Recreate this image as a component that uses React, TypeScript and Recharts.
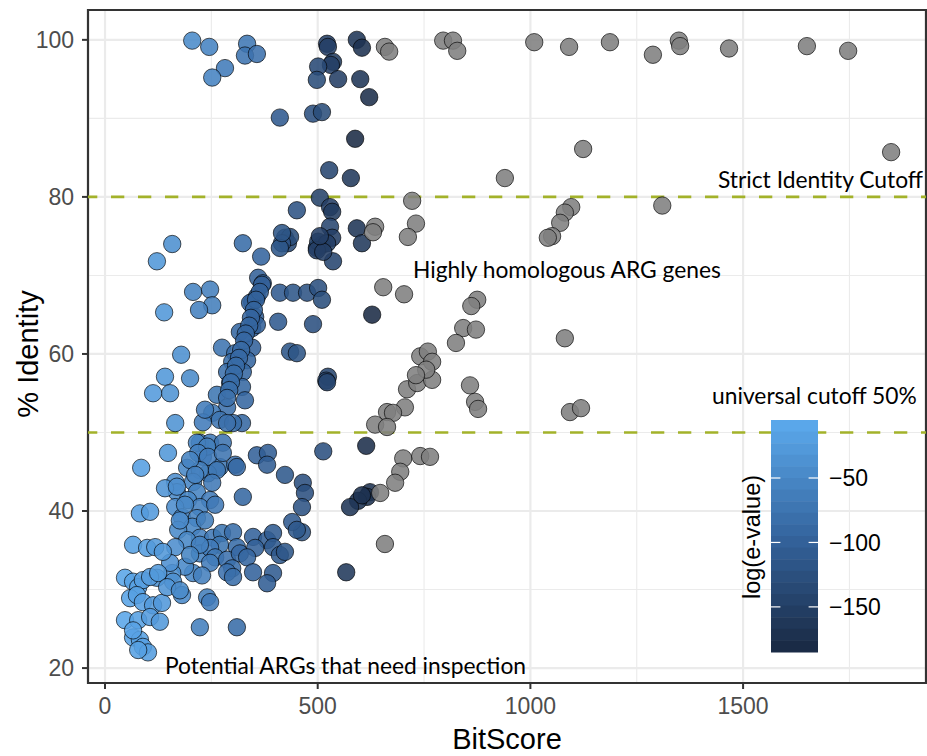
import React from "react"
import {
  ScatterChart,
  Scatter,
  XAxis,
  YAxis,
  CartesianGrid,
  ReferenceLine,
  ReferenceArea,
} from "recharts"

// hits with a finite e-value (coloured by log(e-value))
const blueBitScore = [
  205, 245, 334, 329, 357, 282, 252, 522, 524, 536,
  531, 501, 498, 548, 592, 604, 600, 621, 411, 489,
  510, 588, 527, 578, 505, 529, 534, 451, 529, 592,
  604, 158, 122, 324, 367, 423, 430, 498, 510, 534,
  536, 435, 416, 411, 501, 522, 498, 513, 416, 505,
  360, 371, 357, 346, 411, 442, 475, 501, 510, 407,
  489, 628, 207, 247, 252, 221, 139, 435, 451, 524,
  520, 179, 141, 200, 153, 113, 165, 341, 353, 317,
  346, 357, 275, 306, 346, 334, 299, 287, 324, 294,
  322, 263, 329, 287, 252, 270, 322, 230, 301, 235,
  223, 247, 277, 230, 270, 306, 242, 357, 383, 381,
  423, 324, 310, 287, 148, 85, 216, 240, 219, 242,
  277, 193, 223, 263, 165, 207, 252, 169, 216, 247,
  195, 223, 165, 181, 216, 205, 172, 223, 193, 165,
  223, 254, 275, 301, 310, 270, 247, 259, 287, 317,
  299, 247, 207, 188, 158, 160, 122, 153, 348, 381,
  395, 353, 395, 411, 423, 334, 287, 301, 348, 395,
  381, 228, 240, 247, 181, 223, 310, 82, 106, 66,
  99, 118, 136, 47, 66, 78, 89, 106, 125, 59,
  75, 89, 113, 134, 47, 78, 106, 129, 66, 82,
  89, 101, 78, 66, 141, 169, 146, 176, 522, 614,
  513, 623, 616, 595, 576, 604, 567, 465, 470, 463,
  463, 440, 451, 369, 364, 355, 350, 343, 339, 331,
  327, 320, 315, 308, 303, 296, 292, 287, 200, 212,
  188, 176, 223, 200, 235, 259,
]
const blueIdentity = [
  99.9, 99.1, 99.5, 98.0, 98.2, 96.4, 95.2, 99.5, 99.1, 97.2,
  96.8, 96.6, 94.9, 95.0, 100.0, 99.0, 95.0, 92.7, 90.1, 90.6,
  90.8, 87.4, 83.4, 82.4, 79.9, 78.7, 78.1, 78.3, 76.2, 76.0,
  74.1, 74.0, 71.8, 74.1, 72.4, 74.8, 74.1, 73.5, 73.9, 74.8,
  71.8, 74.9, 74.1, 73.5, 74.3, 74.1, 73.2, 73.0, 75.4, 75.0,
  69.7, 69.0, 67.3, 66.6, 67.8, 67.8, 67.8, 68.4, 66.9, 64.1,
  63.8, 65.0, 67.9, 68.2, 66.2, 65.6, 65.3, 60.3, 60.1, 57.1,
  56.6, 59.9, 57.1, 56.9, 55.0, 55.0, 51.2, 66.5, 64.7, 62.8,
  63.3, 63.7, 60.8, 60.1, 60.8, 59.2, 59.0, 57.7, 57.7, 56.3,
  55.8, 54.8, 54.1, 53.2, 52.5, 51.6, 51.2, 51.3, 51.2, 52.9,
  48.7, 48.7, 48.7, 46.9, 45.6, 45.9, 44.8, 47.1, 47.4, 45.9,
  44.6, 41.8, 45.6, 51.2, 47.4, 45.5, 48.7, 48.2, 47.4, 46.9,
  47.4, 45.5, 45.2, 45.2, 43.7, 43.7, 43.6, 42.4, 42.4, 41.4,
  41.4, 40.5, 40.5, 39.2, 39.1, 38.0, 37.6, 36.6, 36.3, 35.4,
  34.6, 36.6, 37.2, 37.3, 35.4, 35.7, 35.3, 34.1, 33.8, 34.6,
  32.7, 33.4, 32.1, 32.9, 32.1, 31.0, 31.5, 33.4, 36.7, 36.3,
  37.2, 35.3, 35.4, 34.4, 34.8, 34.1, 32.2, 31.6, 32.2, 32.1,
  30.8, 31.8, 29.0, 28.4, 29.3, 25.2, 25.2, 39.7, 39.9, 35.7,
  35.3, 35.4, 34.8, 31.5, 31.0, 30.3, 31.2, 31.6, 32.1, 28.9,
  29.3, 28.4, 28.0, 28.3, 26.1, 26.1, 26.5, 25.9, 23.9, 23.6,
  22.7, 22.0, 22.3, 24.8, 42.9, 43.1, 30.3, 29.9, 56.4, 48.3,
  47.6, 42.4, 41.8, 41.3, 40.5, 42.0, 32.2, 43.6, 42.3, 40.5,
  37.3, 38.6, 37.6, 68.8, 67.9, 66.9, 65.6, 64.6, 63.6, 62.6,
  61.7, 60.5, 59.5, 58.5, 57.5, 56.4, 55.4, 54.4, 46.5, 44.6,
  40.8, 38.8, 35.7, 34.4, 38.8, 40.8,
]
const blueLogE = [
  -45, -55, -70, -75, -78, -65, -55, -150, -150, -155,
  -150, -135, -130, -150, -165, -170, -165, -175, -110, -125,
  -130, -180, -140, -160, -145, -150, -155, -120, -140, -165,
  -160, -40, -30, -85, -95, -130, -135, -150, -155, -150,
  -140, -130, -120, -115, -145, -150, -150, -150, -118, -150,
  -100, -105, -100, -95, -110, -115, -120, -125, -128, -110,
  -125, -180, -55, -60, -62, -58, -30, -115, -118, -140,
  -140, -40, -30, -45, -35, -25, -35, -95, -100, -90,
  -98, -100, -75, -85, -98, -92, -85, -80, -90, -82,
  -90, -72, -92, -80, -70, -75, -90, -65, -85, -65,
  -60, -68, -75, -65, -72, -82, -68, -100, -105, -105,
  -112, -90, -88, -80, -30, -20, -55, -62, -58, -65,
  -75, -50, -60, -70, -42, -52, -68, -45, -55, -65,
  -50, -58, -42, -48, -55, -52, -45, -58, -50, -42,
  -58, -68, -72, -82, -85, -72, -65, -70, -78, -88,
  -82, -65, -52, -48, -40, -40, -30, -38, -98, -105,
  -108, -100, -108, -112, -115, -92, -78, -82, -98, -108,
  -105, -60, -62, -65, -48, -60, -85, -20, -25, -18,
  -22, -26, -30, -12, -15, -18, -20, -24, -28, -14,
  -17, -20, -25, -29, -12, -18, -24, -28, -15, -18,
  -19, -22, -17, -15, -33, -42, -33, -45, -140, -175,
  -125, -170, -170, -168, -165, -170, -160, -125, -125, -120,
  -115, -110, -112, -102, -100, -98, -97, -95, -94, -92,
  -91, -89, -88, -86, -85, -83, -82, -80, -55, -57,
  -50, -46, -58, -54, -62, -68,
]

// hits with e-value 0 -> log is -Inf -> drawn grey
const greyBitScore = [
  658, 668, 795, 818, 828, 1009, 1091, 1187, 1288, 1349,
  1352, 1467, 1650, 1747, 1848, 1124, 940, 1310, 722, 731,
  712, 1096, 1081, 1070, 1051, 1041, 635, 630, 654, 703,
  875, 861, 842, 872, 825, 1081, 710, 734, 769, 858,
  705, 663, 677, 635, 663, 870, 877, 1093, 1119, 701,
  741, 764, 694, 682, 647, 658, 741, 759, 769, 755,
  731,
]
const greyIdentity = [
  99.1, 98.5, 99.9, 99.9, 98.6, 99.7, 99.1, 99.7, 98.1, 99.9,
  99.2, 98.9, 99.2, 98.6, 85.7, 86.1, 82.4, 78.9, 79.5, 76.6,
  74.9, 78.7, 78.0, 76.7, 75.0, 74.8, 76.2, 75.5, 68.5, 67.6,
  66.9, 66.1, 63.3, 63.1, 61.4, 62.0, 55.5, 56.3, 56.7, 56.0,
  53.2, 52.6, 52.5, 51.0, 50.7, 53.9, 53.0, 52.6, 53.1, 46.7,
  47.0, 46.9, 45.0, 43.6, 42.3, 35.8, 59.7, 60.3, 59.0, 58.0,
  57.3,
]

const xTicks = [0, 500, 1000, 1500]
const yTicks = [20, 40, 60, 80, 100]
const xMinor = [250, 750, 1250, 1750]
const yMinor = [30, 50, 70, 90]
const xDomain = [-40, 1930]
const yDomain = [18.1, 103.8]
const cutoffs = [80, 50]
const legendBreaks = [-50, -100, -150]
const colourLimits = [-185, -5]

const LOW = [25, 40, 65]
const MID = [52, 100, 158]
const HIGH = [92, 170, 238]

function colourFor(v: number) {
  const t = Math.max(0, Math.min(1, (v - colourLimits[0]) / (colourLimits[1] - colourLimits[0])))
  const [a, b, u] = t < 0.5 ? [LOW, MID, t / 0.5] : [MID, HIGH, (t - 0.5) / 0.5]
  const c = a.map((lo, i) => Math.round(lo + (b[i] - lo) * u))
  return `rgb(${c[0]},${c[1]},${c[2]})`
}

const blueRows = blueBitScore.map((bs, i) => ({ bs, id: blueIdentity[i], logE: blueLogE[i] }))
const greyRows = greyBitScore.map((bs, i) => ({ bs, id: greyIdentity[i], logE: null }))

const SANS = "'Liberation Sans', Arial, Helvetica, sans-serif"
const NOTE = "Lato, 'Open Sans', sans-serif"

function Dot(props: any) {
  const { cx, cy, payload } = props
  const fill = payload.logE == null ? "#7f7f7f" : colourFor(payload.logE)
  return (
    <circle
      cx={cx}
      cy={cy}
      r={8.7}
      fill={fill}
      fillOpacity={0.88}
      stroke="#000"
      strokeOpacity={0.72}
      strokeWidth={0.9}
    />
  )
}

// colour bar geometry
const BAR_X = 771
const BAR_W = 47
const BAR_TOP = 420
const BAR_H = 232
const NBIN = 20

function barY(v: number) {
  return BAR_TOP + ((colourLimits[1] - v) / (colourLimits[1] - colourLimits[0])) * BAR_H
}

function ColourBar() {
  const bins = Array.from({ length: NBIN }, (_, i) => {
    const vMid = colourLimits[1] - ((i + 0.5) / NBIN) * (colourLimits[1] - colourLimits[0])
    return (
      <rect
        key={i}
        x={BAR_X}
        y={BAR_TOP + (i * BAR_H) / NBIN}
        width={BAR_W}
        height={BAR_H / NBIN + 0.5}
        fill={colourFor(vMid)}
      />
    )
  })
  return (
    <g>
      {bins}
      {legendBreaks.map((b) => (
        <g key={b}>
          <line x1={BAR_X} x2={BAR_X + 9.4} y1={barY(b)} y2={barY(b)} stroke="#fff" strokeWidth={1.2} />
          <line x1={BAR_X + BAR_W - 9.4} x2={BAR_X + BAR_W} y1={barY(b)} y2={barY(b)} stroke="#fff" strokeWidth={1.2} />
          <text x={829} y={barY(b) + 8.2} fontSize={23} fontFamily={SANS} fill="#000">
            {"\u2212" + Math.abs(b)}
          </text>
        </g>
      ))}
      <text transform="translate(760,537) rotate(-90)" textAnchor="middle" fontSize={23.5} fontFamily={SANS} fill="#000">
        log(e-value)
      </text>
    </g>
  )
}

export default function App() {
  return (
    <div style={{ position: "absolute", left: 0, top: 0, width: 927, height: 756, background: "#fff" }}>
      <ScatterChart width={927} height={756} margin={{ top: 10, right: 1, bottom: 0, left: 0 }}>
        <CartesianGrid stroke="#EBEBEB" strokeWidth={1.1} verticalValues={xMinor} horizontalValues={yMinor} />
        <CartesianGrid stroke="#EBEBEB" strokeWidth={2.2} />
        <XAxis
          type="number"
          dataKey="bs"
          domain={xDomain}
          ticks={xTicks}
          allowDataOverflow
          height={73}
          axisLine={false}
          tickSize={6}
          tickMargin={9}
          tickLine={{ stroke: "#333", strokeWidth: 2 }}
          tick={{ fill: "#4D4D4D", fontSize: 23, fontFamily: SANS }}
        />
        <YAxis
          type="number"
          dataKey="id"
          domain={yDomain}
          ticks={yTicks}
          allowDataOverflow
          width={88}
          axisLine={false}
          tickSize={6}
          tickMargin={8}
          tickLine={{ stroke: "#333", strokeWidth: 2 }}
          tick={{ fill: "#4D4D4D", fontSize: 23, fontFamily: SANS }}
        />
        <Scatter data={blueRows} shape={Dot} isAnimationActive={false} />
        <Scatter data={greyRows} shape={Dot} isAnimationActive={false} />
        {cutoffs.map((c) => (
          <ReferenceLine
            key={c}
            y={c}
            stroke="#A3B22A"
            strokeWidth={2.6}
            strokeDasharray="13.3 13.7"
            strokeDashoffset={4}
          />
        ))}
        <ReferenceArea
          x1={xDomain[0]}
          x2={xDomain[1]}
          y1={yDomain[0]}
          y2={yDomain[1]}
          fill="none"
          stroke="#333"
          strokeWidth={2.2}
        />
      </ScatterChart>
      <svg
        width={927}
        height={756}
        style={{ position: "absolute", left: 0, top: 0, pointerEvents: "none" }}
      >
        <text x={923} y={188} textAnchor="end" fontSize={22.8} fontFamily={NOTE} fill="#000">
          Strict Identity Cutoff
        </text>
        <text x={413} y={278} fontSize={22.8} fontFamily={NOTE} fill="#000">
          Highly homologous ARG genes
        </text>
        <text x={712} y={404} fontSize={22.8} fontFamily={NOTE} fill="#000">
          universal cutoff 50%
        </text>
        <text x={165} y={674} fontSize={22.8} fontFamily={NOTE} fill="#000">
          Potential ARGs that need inspection
        </text>
        <ColourBar />
        <text x={507} y={749} textAnchor="middle" fontSize={29} fontFamily={SANS} fill="#000">
          BitScore
        </text>
        <text transform="translate(38,354) rotate(-90)" textAnchor="middle" fontSize={29} fontFamily={SANS} fill="#000">
          % Identity
        </text>
      </svg>
    </div>
  )
}
